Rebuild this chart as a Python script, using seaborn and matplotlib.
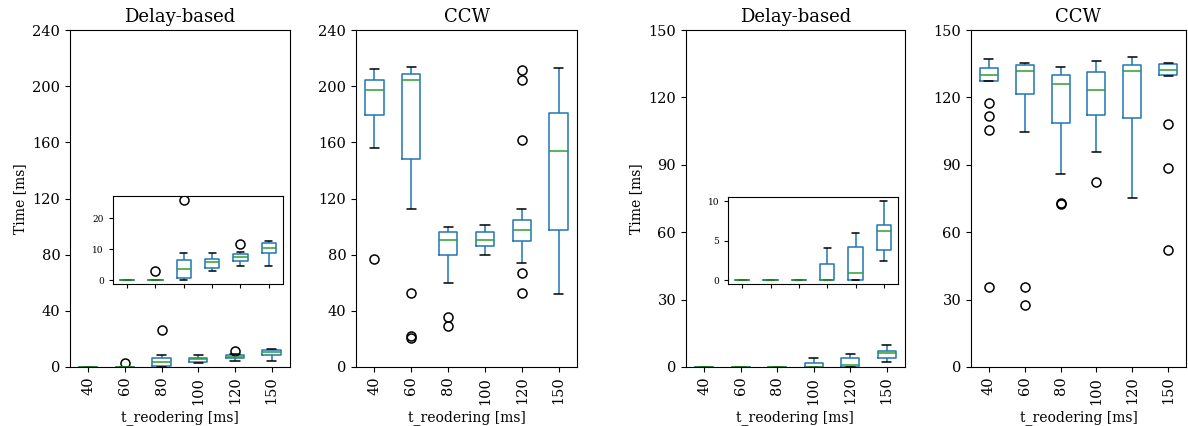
import seaborn as sns
import matplotlib.pyplot as plt
import pandas as pd

# t_reordering categories
labels = ["40", "60", "80", "100", "120", "150"]

delay_a = [
    [0, 0, 0, 0, 0],
    [0, 0, 0, 0, 0, 0, 0, 0, 2.9],
    [0, 0.2, 0.5, 2.0, 3.7, 5.0, 6.5, 8.9, 26.0],
    [2.9, 3.9, 5.9, 6.7, 8.7],
    [4.6, 5.5, 6.3, 6.9, 7.4, 7.9, 8.4, 9.2, 11.7],
    [4.6, 8.8, 10.5, 12.0, 12.7],
]
ccw_a = [
    [76.9, 156.2, 179.4, 190.0, 197.4, 201.0, 204.7, 209.0, 212.3],
    [20.6, 21.8, 53.0, 112.2, 148.2, 170.0, 190.0, 200.0, 204.7,
     206.0, 207.0, 208.0, 208.5, 210.0, 211.0, 212.0, 213.5],
    [29.3, 35.3, 60.1, 79.8, 84.0, 88.0, 90.2, 92.0, 94.0, 95.9, 97.0, 98.5, 99.9],
    [79.8, 86.4, 90.7, 96.1, 100.8],
    [52.5, 67.2, 73.8, 80.0, 89.9, 92.0, 94.0, 96.0, 97.3,
     99.0, 101.0, 103.0, 104.4, 112.2, 161.4, 204.5, 211.4],
    [52.1, 97.5, 154.1, 180.6, 213.3],
]
delay_b = [
    [0, 0, 0, 0, 0],
    [0, 0, 0, 0, 0],
    [0, 0, 0, 0, 0],
    [0, 0, 0, 2.0, 4.0],
    [0, 0, 0.9, 4.2, 6.0],
    [2.4, 3.8, 6.25, 7.0, 10.0],
]
ccw_b = [
    [35.5, 105.3, 111.7, 117.5, 127.1, 128.0, 129.0, 129.5, 130.0,
     131.0, 132.0, 132.5, 133.0, 134.0, 135.0, 136.0, 137.0],
    [27.4, 35.8, 104.4, 121.6, 126.0, 129.0, 131.8, 133.0, 134.0, 134.6, 135.0, 135.2, 135.5],
    [72.6, 73.0, 86.1, 108.4, 115.0, 121.0, 126.0, 127.5, 128.5, 129.9, 131.0, 132.5, 133.7],
    [82.3, 95.7, 112.0, 118.0, 123.2, 128.0, 131.4, 134.0, 136.4],
    [75.3, 110.7, 131.8, 134.5, 137.9],
    [52.1, 88.5, 108.0, 129.6, 130.0, 130.5, 131.0, 131.5, 132.0,
     132.7, 133.4, 134.1, 134.8, 135.0, 135.2, 135.4, 135.5],
]


def to_frame(groups):
    rows = []
    for lab, vals in zip(labels, groups):
        for v in vals:
            rows.append({"t": lab, "time": v})
    return pd.DataFrame(rows)


sns.set_style("ticks")
plt.rcParams["font.family"] = ["DejaVu Serif"]
plt.rcParams["axes.edgecolor"] = "black"
plt.rcParams["xtick.color"] = "black"
plt.rcParams["ytick.color"] = "black"
plt.rcParams["text.color"] = "black"
plt.rcParams["axes.labelcolor"] = "black"

box_kw = dict(
    order=labels, color="#1f77b4", fill=False, width=0.5, linewidth=1.1,
    medianprops=dict(color="#2ca02c"),
    capprops=dict(color="black"),
    flierprops=dict(marker="o", markerfacecolor="none", markeredgecolor="black",
                    markersize=6.5, markeredgewidth=1.1),
)


def draw(ax, groups, title=None, ylim=None, yticks=None, ylabel=None, inset=False):
    sns.boxplot(data=to_frame(groups), x="t", y="time", ax=ax, **box_kw)
    for s in ["top", "right"]:
        ax.spines[s].set_visible(True)
    ax.set_xlim(-0.5, 5.5)
    if inset:
        ax.set_xlabel("")
        ax.set_ylabel("")
        ax.set_xticklabels([])
        ax.tick_params(labelsize=6.5, length=3, width=0.8)
        return
    ax.set_ylim(*ylim)
    ax.set_yticks(yticks)
    ax.set_title(title, fontsize=13)
    ax.set_xlabel("t_reodering [ms]", fontsize=10)
    ax.set_ylabel(ylabel if ylabel else "", fontsize=10)
    ax.tick_params(axis="x", labelrotation=90)
    ax.tick_params(labelsize=10.5)


fig = plt.figure(figsize=(11.88, 4.26), dpi=100)
H = 0.791
B = 0.1385
ax1 = fig.add_axes([0.0589, B, 0.1852, H])
ax2 = fig.add_axes([0.2997, B, 0.186, H])
ax3 = fig.add_axes([0.5774, B, 0.1843, H])
ax4 = fig.add_axes([0.8173, B, 0.181, H])

draw(ax1, delay_a, "Delay-based", (0, 240), range(0, 241, 40), "Time [ms]")
draw(ax2, ccw_a, "CCW", (0, 240), range(0, 241, 40))
draw(ax3, delay_b, "Delay-based", (0, 150), range(0, 151, 30), "Time [ms]")
draw(ax4, ccw_b, "CCW", (0, 150), range(0, 151, 30))

in1 = fig.add_axes([0.0951, 0.3333, 0.1431, 0.2066])
draw(in1, delay_a, inset=True)
in1.set_yticks([0, 10, 20])
in3 = fig.add_axes([0.6128, 0.3333, 0.1431, 0.204])
draw(in3, delay_b, inset=True)
in3.set_yticks([0, 5, 10])

plt.savefig("out.png", dpi=100)
